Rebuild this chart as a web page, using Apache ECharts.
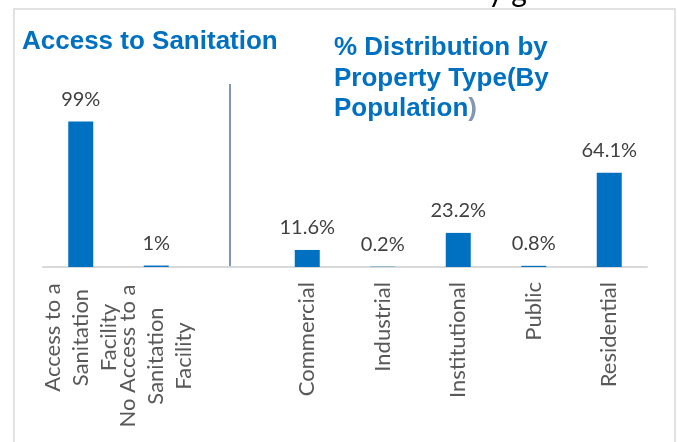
<!DOCTYPE html>
<html>
<head>
<meta charset="utf-8">
<script src="https://cdn.jsdelivr.net/npm/echarts@6/dist/echarts.min.js"></script>
<style>
html,body{margin:0;padding:0;background:#fff;}
#c{width:677px;height:442px;}
</style>
</head>
<body>
<div id="c"></div>
<script>
// ---- data ----
var categories = [
  'Access to a\nSanitation\nFacility',
  'No Access to a\nSanitation\nFacility',
  '',
  'Commercial',
  'Industrial',
  'Institutional',
  'Public',
  'Residential'
];
var values = [99, 1, null, 11.6, 0.2, 23.2, 0.8, 64.1];
var title1 = 'Access to Sanitation';
var title2Lines = ['% Distribution by', 'Property Type(By', 'Population'];
var title2Tail = ')';
var topFragment = 'y g';

var BLUE = '#0070C0';
var labelFont = 'Lato, "Liberation Sans", sans-serif';
var titleFont = '"Liberation Sans", Arial, sans-serif';

// rich widths for multi-line category labels (centered lines)
var richWidths = [111, 148];

var chart = echarts.init(document.getElementById('c'), null, {renderer: 'canvas'});

var rich = {};
richWidths.forEach(function (w, i) {
  rich['w' + i] = {width: w, align: 'center', lineHeight: 28, fontSize: 22, color: '#595959', fontFamily: labelFont};
});

chart.setOption({
  animation: false,
  backgroundColor: '#ffffff',
  title: [
    {
      text: title1,
      left: 22, top: 29, padding: 0,
      textStyle: {color: BLUE, fontSize: 26, fontWeight: 'bold', fontFamily: titleFont, lineHeight: 26}
    },
    {
      text: title2Lines.slice(0, 2).map(function (s) { return '{a|' + s + '}'; }).join('\n') +
            '\n{a|' + title2Lines[2] + '}{b|' + title2Tail + '}',
      left: 334, top: 33, padding: 0,
      textStyle: {
        rich: {
          a: {color: BLUE, fontSize: 26, fontWeight: 'bold', fontFamily: titleFont, lineHeight: 30.5},
          b: {color: '#8497B0', fontSize: 26, fontWeight: 'bold', fontFamily: titleFont, lineHeight: 30.5}
        }
      }
    }
  ],
  grid: {left: 43, right: 30, top: 120, bottom: 175, containLabel: false},
  xAxis: {
    type: 'category',
    data: categories,
    axisLine: {show: true, lineStyle: {color: '#d9d9d9', width: 2}},
    axisTick: {show: false},
    axisLabel: {
      interval: 0,
      rotate: 90,
      margin: 15,
      color: '#595959',
      fontSize: 22,
      fontFamily: labelFont,
      lineHeight: 28,
      formatter: function (v, idx) {
        var lines = v.split('\n');
        if (lines.length > 1 && idx < richWidths.length) {
          return lines.map(function (s) { return '{w' + idx + '|' + s + '}'; }).join('\n');
        }
        return v;
      },
      rich: rich
    }
  },
  yAxis: {type: 'value', min: 0, max: 100, show: false, splitLine: {show: false}},
  series: [{
    type: 'bar',
    data: values,
    barWidth: 25,
    itemStyle: {color: BLUE},
    label: {
      show: true,
      position: 'top',
      distance: 12,
      color: '#404040',
      fontSize: 20,
      fontFamily: labelFont,
      formatter: function (p) { return p.value == null ? '' : p.value + '%'; }
    }
  }],
  graphic: [
    {type: 'rect', shape: {x: 14, y: 9, width: 661, height: 460}, style: {fill: 'none', stroke: '#d9d9d9', lineWidth: 1.5}, silent: true, z: -1},
    {type: 'line', shape: {x1: 230, y1: 84, x2: 230, y2: 267}, style: {stroke: '#8497B0', lineWidth: 2}, silent: true},
    {type: 'text', x: 488, y: -8, style: {text: topFragment, fontSize: 30, fill: '#000', fontFamily: labelFont, verticalAlign: 'middle'}, silent: true}
  ]
});
</script>
</body>
</html>
